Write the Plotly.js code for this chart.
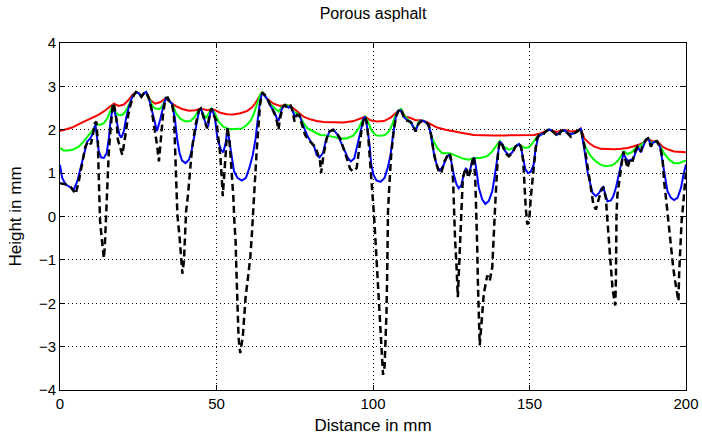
<!DOCTYPE html>
<html>
<head>
<meta charset="utf-8">
<script src="https://cdn.plot.ly/plotly-3.0.1.min.js"></script>
<style>html,body{margin:0;padding:0;background:#fff;}#chart{width:702px;height:439px;}</style>
</head>
<body>
<div id="chart"></div>
<script>
// Raw profile (black dashed)
const profileX = [0,1.8,3.4,5.0,6.0,7.1,8.1,9.0,9.9,10.5,11.1,11.6,12.1,12.3,12.5,12.8,13.3,13.8,14.0,14.3,14.6,15.0,15.3,15.6,16.1,16.9,17.4,18.0,18.5,19.9,20.9,21.8,22.5,23.6,24.3,25.2,26.0,26.8,27.5,28.4,29.2,29.9,30.5,31.0,31.6,32.4,33.0,33.7,34.4,35.1,35.8,36.4,36.7,37.1,37.5,38.2,38.7,39.1,39.6,39.9,40.3,40.9,41.4,42.2,43.3,44.4,45.0,45.9,47.0,47.8,48.4,49.1,50.0,50.6,51.2,51.7,52.0,52.8,53.5,54.2,54.9,55.4,55.7,56.1,56.3,56.5,56.7,57.0,57.3,57.6,58.4,58.8,59.3,60.2,60.8,61.3,61.6,62.0,62.4,62.9,63.4,63.9,64.6,65.5,66.3,67.1,68.0,68.7,69.3,69.8,70.3,71.2,71.9,72.7,73.7,74.4,74.9,75.7,76.4,77.3,78.3,79.4,80.4,81.5,82.3,83.1,83.4,84.2,85.2,86.1,87.2,88.4,89.5,90.6,91.6,92.7,93.6,94.8,95.7,96.4,97.2,98.0,98.6,99.1,99.6,100.3,100.8,101.3,101.9,102.4,102.7,103.2,103.7,104.0,104.3,104.5,104.7,104.8,105.3,105.8,106.7,107.5,108.3,109.0,109.6,110.4,111.4,112.5,113.6,114.6,115.7,116.8,117.8,118.6,119.2,120.0,121.0,121.8,122.8,123.9,124.5,125.1,125.6,125.8,126.2,126.7,127.1,127.5,128.0,128.3,128.7,129.3,129.9,130.4,131.1,131.7,132.2,132.7,133.1,133.3,133.5,133.7,133.9,134.1,134.9,135.4,136.5,137.3,138.1,138.6,139.0,139.5,139.9,140.5,141.3,142.3,143.4,144.5,145.5,146.6,147.3,148.0,148.4,148.8,149.3,149.9,150.4,151.3,151.7,152.3,153.1,154.2,155.2,156.3,157.3,158.4,159.2,160.0,161.1,162.1,163.2,164.3,165.3,166.4,166.9,167.5,168.3,169.1,169.8,170.4,171.2,171.9,172.8,173.6,174.4,174.9,175.4,176.0,176.5,177.1,177.4,177.6,177.7,177.8,178.1,178.6,179.4,180.0,180.8,181.3,182.2,182.9,183.7,184.5,185.6,186.1,187.2,187.9,188.8,189.6,190.7,191.7,192.5,193.0,193.6,194.1,194.6,195.1,195.9,196.5,197.3,197.6,197.8,198.1,198.6,199.0,199.4,200.0];
const profileY = [0.77,0.74,0.68,0.52,0.81,1.19,1.61,1.74,1.67,1.88,2.15,2.19,1.73,1.12,0.43,-0.1,-0.48,-0.87,-0.96,-0.71,-0.18,0.43,1.04,1.5,1.96,2.61,2.53,2.26,1.77,1.42,1.88,2.34,2.57,2.8,2.87,2.84,2.76,2.84,2.87,2.72,2.49,2.19,1.96,1.65,1.27,1.96,2.41,2.72,2.74,2.65,2.6,2.34,1.58,0.81,0.05,-0.48,-1.1,-1.32,-1.02,-0.41,0.13,0.51,0.97,1.58,2.11,2.45,2.49,2.26,2.03,2.34,2.49,2.34,2.2,1.8,1.42,0.89,0.47,1.3,2.07,1.7,1.04,0.43,-0.1,-0.56,-1.1,-1.63,-2.24,-2.7,-3.0,-3.15,-2.77,-2.24,-1.86,-1.32,-0.94,-0.41,0.05,0.51,0.97,1.58,2.11,2.57,2.86,2.8,2.72,2.57,2.45,2.34,2.19,2.0,2.26,2.53,2.57,2.49,2.55,2.42,2.19,2.34,2.34,2.11,1.88,1.77,1.69,1.61,1.46,1.27,1.0,1.42,1.8,1.96,2.0,1.92,1.8,1.58,1.35,1.1,1.04,1.12,1.58,2.03,2.3,2.19,1.73,1.27,0.8,0.05,-0.56,-1.25,-1.94,-2.55,-3.16,-3.65,-3.46,-2.93,-2.24,-1.48,-0.56,0.13,0.81,1.42,2.03,2.34,2.45,2.48,2.34,2.22,2.2,2.15,1.96,2.15,2.2,2.19,2.11,1.88,1.58,1.27,1.04,1.0,1.27,1.42,1.46,1.27,0.81,0.2,-0.49,-1.17,-1.86,-1.17,-0.33,0.43,0.89,1.04,1.12,0.89,1.04,1.27,1.39,0.81,0.05,-0.71,-1.48,-2.24,-2.7,-2.97,-2.24,-1.78,-1.36,-1.48,-1.17,-0.56,0.2,0.89,1.42,1.74,1.65,1.46,1.39,1.46,1.61,1.69,1.61,1.27,0.66,0.2,-0.18,-0.1,0.43,1.04,1.42,1.8,1.88,1.88,1.96,2.02,1.97,1.88,1.84,1.96,2.0,1.92,1.84,1.92,1.96,2.03,1.88,1.65,1.27,0.89,0.51,0.28,0.16,0.35,0.58,0.68,0.43,-0.1,-0.64,-1.17,-1.63,-1.94,-2.05,-1.48,-0.71,0.05,0.51,0.81,1.19,1.5,1.23,1.12,1.35,1.27,1.5,1.61,1.5,1.65,1.77,1.8,1.61,1.73,1.74,1.61,1.35,0.81,0.43,0.05,-0.33,-0.71,-1.17,-1.48,-1.86,-1.95,-1.33,-0.71,-0.1,0.2,0.58,1.04];

// Small-radius envelope (blue)
const blueX = [0,0.7,1.8,3.4,4.4,5.5,6.5,7.6,8.7,9.7,10.5,11.3,11.9,12.4,13.2,14.0,14.9,15.6,16.1,16.7,17.0,17.7,18.3,19.0,19.6,20.4,21.1,22.0,23.1,24.3,25.2,26.0,26.8,27.5,28.4,29.2,30.0,31.0,32.1,33.2,33.9,35.1,35.8,36.7,37.4,38.2,39.0,40.1,41.2,42.0,42.8,43.5,44.4,45.0,45.9,46.7,47.3,48.1,48.6,49.5,50.3,51.4,52.2,53.0,53.5,54.2,54.9,55.6,56.7,58.1,59.4,60.5,61.6,62.5,63.1,63.9,64.6,66.1,67.4,68.4,69.3,69.8,70.9,71.9,73.0,73.7,74.6,75.1,75.9,76.5,77.6,78.9,80.1,81.2,82.0,82.9,84.0,85.0,86.1,87.4,88.7,89.7,90.8,91.9,92.9,94.0,95.0,96.1,97.0,97.5,98.2,98.9,99.4,100.1,101.1,102.4,103.7,104.7,105.6,106.4,107.2,107.9,108.8,109.8,110.9,112.0,113.0,113.6,114.3,115.2,116.2,117.3,118.2,118.9,119.6,120.5,121.3,122.4,123.5,124.3,125.0,125.8,126.7,127.4,128.2,129.0,129.7,130.3,130.9,131.7,132.4,133.1,133.8,134.9,135.9,137.0,138.1,138.8,139.5,140.0,140.5,141.3,142.3,143.4,144.5,145.5,146.6,147.3,148.0,148.7,149.6,150.4,151.3,152.0,152.8,154.2,155.2,156.3,157.3,158.7,160.0,161.1,162.7,164.3,165.5,166.4,166.9,167.7,168.5,169.4,170.1,171.2,172.3,173.0,173.6,174.2,174.9,176.0,176.8,177.6,178.3,179.2,180.0,180.8,181.5,182.4,183.2,184.0,184.7,185.6,186.4,187.2,187.9,188.8,189.6,190.7,191.7,192.5,193.2,194.1,195.2,196.2,197.3,198.4,199.2,200.0];
const blueY = [1.19,0.89,0.74,0.66,0.62,0.81,1.12,1.46,1.73,1.8,1.92,2.12,1.8,1.5,1.36,1.35,1.46,1.8,2.19,2.49,2.57,2.34,2.11,1.88,1.82,1.96,2.26,2.53,2.76,2.87,2.84,2.76,2.84,2.87,2.72,2.49,2.2,1.97,2.26,2.6,2.73,2.65,2.6,2.26,1.8,1.46,1.29,1.23,1.31,1.5,1.8,2.15,2.43,2.49,2.3,2.11,2.07,2.42,2.49,2.26,1.8,1.54,1.48,1.73,2.03,1.73,1.35,1.04,0.89,0.83,0.89,1.12,1.42,1.8,2.19,2.65,2.86,2.72,2.53,2.42,2.26,2.2,2.49,2.57,2.51,2.55,2.38,2.3,2.35,2.34,2.11,1.88,1.73,1.61,1.42,1.36,1.46,1.77,1.96,2.0,1.88,1.73,1.54,1.36,1.27,1.34,1.65,2.03,2.26,2.3,2.03,1.65,1.22,0.97,0.83,0.8,0.89,1.12,1.42,1.88,2.26,2.42,2.45,2.3,2.22,2.19,2.03,1.96,2.11,2.21,2.2,2.15,2.0,1.69,1.39,1.16,1.06,1.16,1.36,1.43,1.27,0.97,0.74,0.65,0.72,0.97,1.12,0.97,1.04,1.27,1.36,1.04,0.66,0.39,0.29,0.36,0.58,0.89,1.27,1.58,1.73,1.67,1.5,1.41,1.48,1.61,1.67,1.58,1.35,1.08,1.0,1.03,1.19,1.58,1.84,1.9,1.96,2.01,1.97,1.88,1.96,1.99,1.9,1.92,1.97,2.03,1.84,1.46,1.04,0.74,0.55,0.47,0.55,0.65,0.68,0.51,0.35,0.37,0.47,0.66,0.89,1.19,1.45,1.34,1.27,1.31,1.33,1.5,1.59,1.48,1.65,1.77,1.8,1.65,1.71,1.73,1.61,1.27,0.89,0.58,0.43,0.38,0.43,0.66,0.97,1.2];

// Medium-radius envelope (green)
const greenX = [0,1.2,2.8,4.4,6.0,7.6,9.2,10.3,11.1,11.9,12.9,14.0,15.1,16.1,16.9,17.7,18.8,19.9,20.9,22.0,23.1,24.3,25.2,26.0,26.8,27.5,28.4,29.7,30.5,31.6,32.4,33.2,33.9,35.3,36.0,37.1,38.5,40.1,41.7,43.1,44.1,45.0,45.9,46.7,47.5,48.4,49.5,50.6,52.2,53.5,54.9,56.5,58.1,59.7,61.0,62.0,63.1,63.9,64.6,66.1,67.4,68.7,69.8,70.9,71.9,73.7,74.6,75.7,76.5,77.8,79.1,81.0,83.1,85.2,87.4,89.5,91.6,93.8,95.4,96.4,97.5,98.6,99.6,101.0,102.5,103.8,105.1,106.1,107.2,108.3,109.0,109.8,111.4,113.0,113.6,114.6,116.2,117.8,118.9,120.5,122.1,124.5,126.9,129.0,130.6,132.2,134.3,136.5,138.1,139.5,140.5,141.8,143.4,145.0,146.6,147.7,148.7,149.8,151.0,152.0,153.1,154.2,155.2,156.3,157.3,158.7,160.0,161.1,162.7,164.3,165.5,166.4,166.9,168.0,169.6,171.2,172.8,174.4,176.5,178.1,179.4,180.2,181.3,182.6,184.0,185.0,186.1,187.2,187.9,188.8,190.4,191.7,193.0,194.6,196.2,197.8,199.2,200.0];
const greenY = [1.58,1.52,1.52,1.55,1.61,1.73,1.88,1.97,2.07,2.13,2.11,2.15,2.26,2.45,2.57,2.4,2.34,2.34,2.42,2.57,2.76,2.87,2.84,2.76,2.84,2.87,2.72,2.53,2.49,2.48,2.51,2.64,2.73,2.63,2.57,2.38,2.25,2.19,2.2,2.3,2.43,2.49,2.34,2.28,2.38,2.49,2.38,2.19,2.07,2.03,2.01,2.02,2.03,2.11,2.22,2.38,2.61,2.8,2.86,2.72,2.58,2.49,2.42,2.53,2.57,2.55,2.42,2.38,2.34,2.15,2.03,1.96,1.88,1.87,1.84,1.8,1.8,1.87,2.03,2.19,2.3,2.15,1.97,1.87,1.86,1.88,1.96,2.11,2.34,2.45,2.48,2.34,2.22,2.07,2.0,2.19,2.21,2.11,1.8,1.58,1.46,1.46,1.39,1.33,1.31,1.35,1.35,1.39,1.5,1.65,1.74,1.61,1.54,1.58,1.67,1.61,1.58,1.6,1.69,1.8,1.88,1.9,1.96,2.01,1.97,1.88,1.96,1.99,1.9,1.92,1.97,2.03,1.8,1.58,1.39,1.27,1.19,1.16,1.18,1.27,1.41,1.5,1.44,1.48,1.58,1.61,1.67,1.77,1.8,1.69,1.73,1.63,1.46,1.31,1.23,1.23,1.27,1.29];

// Large-radius envelope (red)
const redX = [0,1.8,3.9,6.0,8.1,10.3,12.4,14.5,16.1,17.2,18.8,20.4,21.8,23.1,24.3,25.2,26.0,26.8,27.5,28.9,30.5,32.1,33.7,35.3,36.9,39.0,41.2,43.3,45.0,47.0,48.6,50.2,51.2,53.3,55.4,57.6,59.7,61.3,62.4,63.4,64.6,66.1,68.2,70.3,71.9,73.7,75.7,77.8,79.9,82.0,84.2,87.4,90.6,93.8,95.9,97.5,99.1,101.3,103.5,105.6,107.2,108.8,110.4,112.0,113.6,115.2,116.8,118.4,120.5,123.2,125.8,129.0,132.2,135.4,138.6,141.8,145.0,148.2,150.3,151.5,153.6,156.3,158.7,161.1,163.2,165.5,166.4,167.5,169.1,170.7,172.8,174.9,177.1,179.2,181.3,183.4,185.6,187.2,187.9,189.3,190.9,192.5,194.1,196.2,198.4,200.0];
const redY = [1.97,2.0,2.05,2.13,2.2,2.28,2.35,2.45,2.55,2.6,2.55,2.58,2.68,2.8,2.87,2.84,2.78,2.84,2.87,2.68,2.6,2.64,2.72,2.63,2.55,2.48,2.44,2.45,2.49,2.45,2.48,2.43,2.39,2.36,2.35,2.38,2.43,2.51,2.61,2.73,2.86,2.72,2.6,2.55,2.57,2.55,2.42,2.3,2.24,2.2,2.18,2.17,2.17,2.2,2.26,2.3,2.22,2.19,2.2,2.28,2.38,2.47,2.3,2.27,2.22,2.22,2.19,2.13,2.05,2.0,1.96,1.92,1.88,1.87,1.87,1.87,1.87,1.88,1.88,1.88,1.92,2.0,1.95,2.0,1.96,1.98,2.03,1.8,1.69,1.61,1.56,1.55,1.55,1.56,1.58,1.62,1.67,1.74,1.79,1.73,1.73,1.61,1.55,1.5,1.49,1.48];

const xTicks = [0,50,100,150,200];
const yTicks = [-4,-3,-2,-1,0,1,2,3,4];

const FONT = 'Liberation Sans, Arial, sans-serif';

const traces = [
  {x: redX, y: redY, mode: 'lines', line: {color: '#ff0000', width: 2}, hoverinfo: 'skip'},
  {x: greenX, y: greenY, mode: 'lines', line: {color: '#00ff00', width: 2}, hoverinfo: 'skip'},
  {x: blueX, y: blueY, mode: 'lines', line: {color: '#0000ff', width: 2}, hoverinfo: 'skip'},
  {x: profileX, y: profileY, mode: 'lines', line: {color: '#000000', width: 2.5, dash: '7px,4px'}, hoverinfo: 'skip'}
];

const axisCommon = {
  showline: true, linecolor: '#000', linewidth: 1, mirror: 'ticks',
  ticks: 'inside', ticklen: 5, tickcolor: '#000', tickwidth: 1,
  showgrid: true, gridcolor: '#000', gridwidth: 1, griddash: '1px,3px',
  zeroline: false, tickfont: {family: FONT, size: 15, color: '#000'}
};

const layout = {
  width: 702, height: 439,
  margin: {l: 60, r: 16, t: 43, b: 49},
  paper_bgcolor: '#fff', plot_bgcolor: '#fff',
  showlegend: false,
  title: {text: 'Porous asphalt', font: {family: FONT, size: 16, color: '#000'},
          x: 0.5, xref: 'paper', y: 1 - 13/439, yref: 'container', yanchor: 'middle'},
  xaxis: Object.assign({}, axisCommon, {range: [0, 200], tickvals: xTicks,
          title: {text: 'Distance in mm', font: {family: FONT, size: 17, color: '#000'}, standoff: 8}}),
  yaxis: Object.assign({}, axisCommon, {range: [-4, 4], tickvals: yTicks,
          title: {text: 'Height in mm', font: {family: FONT, size: 17, color: '#000'}, standoff: 12}})
};

Plotly.newPlot('chart', traces, layout, {displayModeBar: false, staticPlot: true});
</script>
</body>
</html>
